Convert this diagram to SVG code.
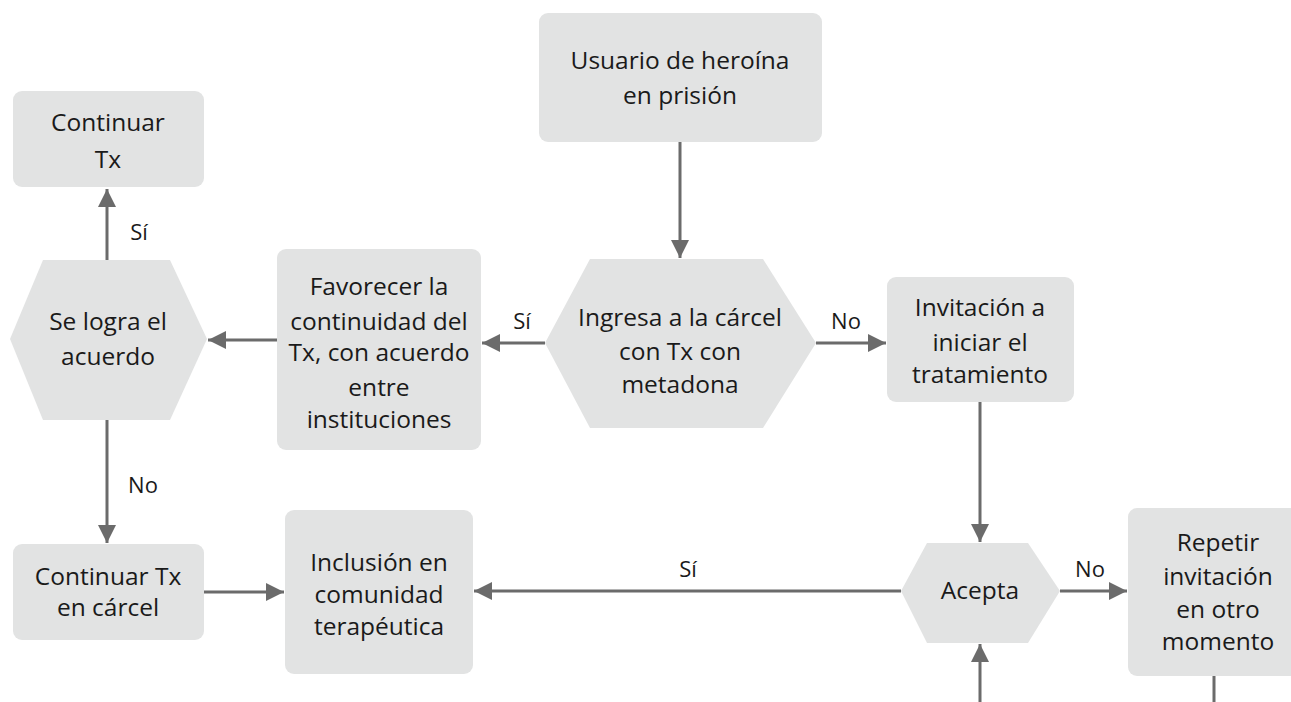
<svg xmlns="http://www.w3.org/2000/svg" width="1291" height="702" viewBox="0 0 1291 702">
<style>
.box{fill:#e2e3e3;}
.t{font-family:"Open Sans","Liberation Sans",sans-serif;font-size:24.5px;fill:#1a1a1a;text-anchor:middle;}
.lbl{font-family:"Open Sans","Liberation Sans",sans-serif;font-size:22px;fill:#1a1a1a;text-anchor:middle;}
.c{stroke:#6b6b6b;stroke-width:3;fill:none;}
</style>
<defs>
<marker id="ah" markerUnits="userSpaceOnUse" markerWidth="18" markerHeight="18" viewBox="0 0 16 16" refX="16" refY="8" orient="auto">
<path d="M0,0 L16,8 L0,16 Z" fill="#6b6b6b"/>
</marker>
</defs>
<rect width="1291" height="702" fill="#ffffff"/>
<g id="connectors">
<line class="c" x1="680" y1="142" x2="680" y2="258" marker-end="url(#ah)"/>
<line class="c" x1="545" y1="343" x2="482" y2="343" marker-end="url(#ah)"/>
<line class="c" x1="816" y1="343" x2="886" y2="343" marker-end="url(#ah)"/>
<line class="c" x1="278" y1="340" x2="208" y2="340" marker-end="url(#ah)"/>
<line class="c" x1="107" y1="260" x2="107" y2="189" marker-end="url(#ah)"/>
<line class="c" x1="107" y1="420" x2="107" y2="543" marker-end="url(#ah)"/>
<line class="c" x1="204" y1="592" x2="284" y2="592" marker-end="url(#ah)"/>
<line class="c" x1="980" y1="402" x2="980" y2="542" marker-end="url(#ah)"/>
<line class="c" x1="980" y1="702" x2="980" y2="644" marker-end="url(#ah)"/>
<line class="c" x1="901" y1="591" x2="474" y2="591" marker-end="url(#ah)"/>
<line class="c" x1="1060" y1="591" x2="1127" y2="591" marker-end="url(#ah)"/>
<line class="c" x1="1214" y1="676" x2="1214" y2="702"/>
<text class="lbl" x="522" y="329">Sí</text>
<text class="lbl" x="846" y="329">No</text>
<text class="lbl" x="139" y="240">Sí</text>
<text class="lbl" x="143" y="493">No</text>
<text class="lbl" x="688" y="577">Sí</text>
<text class="lbl" x="1090" y="577">No</text>
</g>
<g id="n-usuario">
<rect class="box" x="539" y="13" width="283" height="129" rx="9"/>
<text class="t" x="680" y="69">Usuario de heroína</text>
<text class="t" x="680" y="104">en prisión</text>
</g>
<g id="n-ingresa">
<polygon class="box" points="545,343 590,259 763,259 816,343 763,428 590,428"/>
<text class="t" x="680" y="326">Ingresa a la cárcel</text>
<text class="t" x="680" y="360">con Tx con</text>
<text class="t" x="680" y="393">metadona</text>
</g>
<g id="n-favorecer">
<rect class="box" x="277" y="249" width="204" height="201" rx="9"/>
<text class="t" x="379" y="295">Favorecer la</text>
<text class="t" x="379" y="330">continuidad del</text>
<text class="t" x="379" y="361">Tx, con acuerdo</text>
<text class="t" x="379" y="396">entre</text>
<text class="t" x="379" y="428">instituciones</text>
</g>
<g id="n-selogra">
<polygon class="box" points="10,339 43,260 170,260 207,339 170,420 43,420"/>
<text class="t" x="108" y="330">Se logra el</text>
<text class="t" x="108" y="365">acuerdo</text>
</g>
<g id="n-continuar">
<rect class="box" x="13" y="91" width="191" height="96" rx="9"/>
<text class="t" x="108" y="131">Continuar</text>
<text class="t" x="108" y="168">Tx</text>
</g>
<g id="n-invitacion">
<rect class="box" x="887" y="277" width="187" height="125" rx="9"/>
<text class="t" x="980" y="316">Invitación a</text>
<text class="t" x="980" y="351">iniciar el</text>
<text class="t" x="980" y="383">tratamiento</text>
</g>
<g id="n-continuarcarcel">
<rect class="box" x="13" y="544" width="191" height="96" rx="9"/>
<text class="t" x="108" y="585">Continuar Tx</text>
<text class="t" x="108" y="616">en cárcel</text>
</g>
<g id="n-inclusion">
<rect class="box" x="285" y="510" width="188" height="164" rx="9"/>
<text class="t" x="379" y="571">Inclusión en</text>
<text class="t" x="379" y="603">comunidad</text>
<text class="t" x="379" y="635">terapéutica</text>
</g>
<g id="n-acepta">
<polygon class="box" points="901,591 927,543 1028,543 1060,591 1028,643 927,643"/>
<text class="t" x="980" y="599">Acepta</text>
</g>
<g id="n-repetir">
<rect class="box" x="1128" y="508" width="175" height="168" rx="9"/>
<text class="t" x="1218" y="551">Repetir</text>
<text class="t" x="1218" y="585">invitación</text>
<text class="t" x="1218" y="618">en otro</text>
<text class="t" x="1218" y="650">momento</text>
</g>
</svg>
